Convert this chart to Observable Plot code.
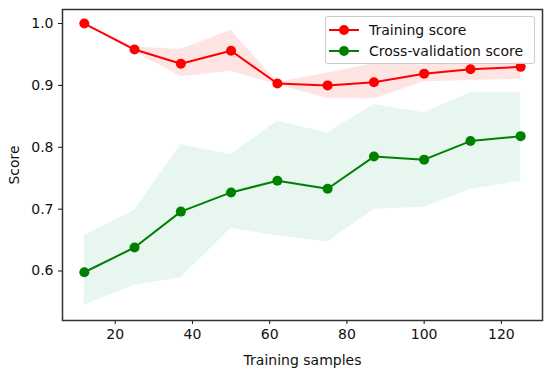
<!DOCTYPE html>
<html><head><meta charset="utf-8">
<script src="https://cdn.jsdelivr.net/npm/d3@7"></script>
<script src="https://cdn.jsdelivr.net/npm/@observablehq/plot@0.6"></script>
<style>
body{margin:0;background:#fff;font-family:"DejaVu Sans",sans-serif;}
#wrap{position:relative;width:550px;height:372px;}
#legend{position:absolute;left:325px;top:16px;width:208px;height:46px;border:1px solid #ccc;border-radius:3px;background:rgba(255,255,255,0.85);font-size:14px;color:#111;}
.row{position:absolute;left:0;height:20px;display:flex;align-items:center;}
.row svg{margin-left:3px;}
.row span{margin-left:10px;}
</style>
</head><body><div id="wrap"></div>
<script>
const samples = [12, 25, 37, 50, 62, 75, 87, 100, 112, 125];
const trainMean = [1.0, 0.958, 0.935, 0.956, 0.903, 0.900, 0.905, 0.919, 0.926, 0.930];
const trainLow  = [1.0, 0.955, 0.914, 0.923, 0.901, 0.879, 0.878, 0.906, 0.908, 0.910];
const trainHigh = [1.0, 0.962, 0.958, 0.989, 0.905, 0.920, 0.935, 0.933, 0.945, 0.952];
const cvMean = [0.598, 0.638, 0.696, 0.727, 0.746, 0.733, 0.785, 0.780, 0.810, 0.818];
const cvLow  = [0.545, 0.577, 0.589, 0.669, 0.657, 0.647, 0.700, 0.703, 0.732, 0.745];
const cvHigh = [0.657, 0.698, 0.804, 0.788, 0.842, 0.823, 0.869, 0.856, 0.888, 0.888];
const seriesNames = ["Training score", "Cross-validation score"];
const seriesColors = ["#ff0000", "#008000"];
const bandColors = ["#ff2020", "#3cb371"];

const train = samples.map((x, i) => ({x, y: trainMean[i], lo: trainLow[i], hi: trainHigh[i]}));
const cv = samples.map((x, i) => ({x, y: cvMean[i], lo: cvLow[i], hi: cvHigh[i]}));

const chart = Plot.plot({
  width: 550, height: 372,
  marginLeft: 62, marginRight: 8, marginTop: 9, marginBottom: 52,
  style: {fontFamily: "DejaVu Sans, sans-serif", fontSize: "14px", color: "#111", background: "#fff"},
  x: {domain: [6.35, 130.65], ticks: [20, 40, 60, 80, 100, 120], tickSize: 4, tickPadding: 5, label: "Training samples", labelAnchor: "center", labelArrow: "none", labelOffset: 44},
  y: {domain: [0.52, 1.0227], ticks: [0.6, 0.7, 0.8, 0.9, 1.0], tickFormat: d3.format(".1f"), tickSize: 4, tickPadding: 5, label: "Score", labelAnchor: "center", labelArrow: "none", labelOffset: 53},
  marks: [
    Plot.areaY(train, {x: "x", y1: "lo", y2: "hi", fill: bandColors[0], fillOpacity: 0.12}),
    Plot.areaY(cv, {x: "x", y1: "lo", y2: "hi", fill: bandColors[1], fillOpacity: 0.12}),
    Plot.lineY(train, {x: "x", y: "y", stroke: seriesColors[0], strokeWidth: 2}),
    Plot.dot(train, {x: "x", y: "y", fill: seriesColors[0], r: 5}),
    Plot.lineY(cv, {x: "x", y: "y", stroke: seriesColors[1], strokeWidth: 2}),
    Plot.dot(cv, {x: "x", y: "y", fill: seriesColors[1], r: 5}),
    Plot.frame({stroke: "#333", strokeWidth: 1.5})
  ]
});
const wrap = document.getElementById("wrap");
wrap.appendChild(chart);

const legend = document.createElement("div");
legend.id = "legend";
seriesNames.forEach((name, i) => {
  const row = document.createElement("div");
  row.className = "row";
  row.style.top = (3 + i * 21) + "px";
  row.innerHTML = `<svg width="30" height="12"><line x1="0" y1="6" x2="30" y2="6" stroke="${seriesColors[i]}" stroke-width="2"/><circle cx="15" cy="6" r="5" fill="${seriesColors[i]}"/></svg><span>${name}</span>`;
  legend.appendChild(row);
});
wrap.appendChild(legend);
</script>
</body></html>
